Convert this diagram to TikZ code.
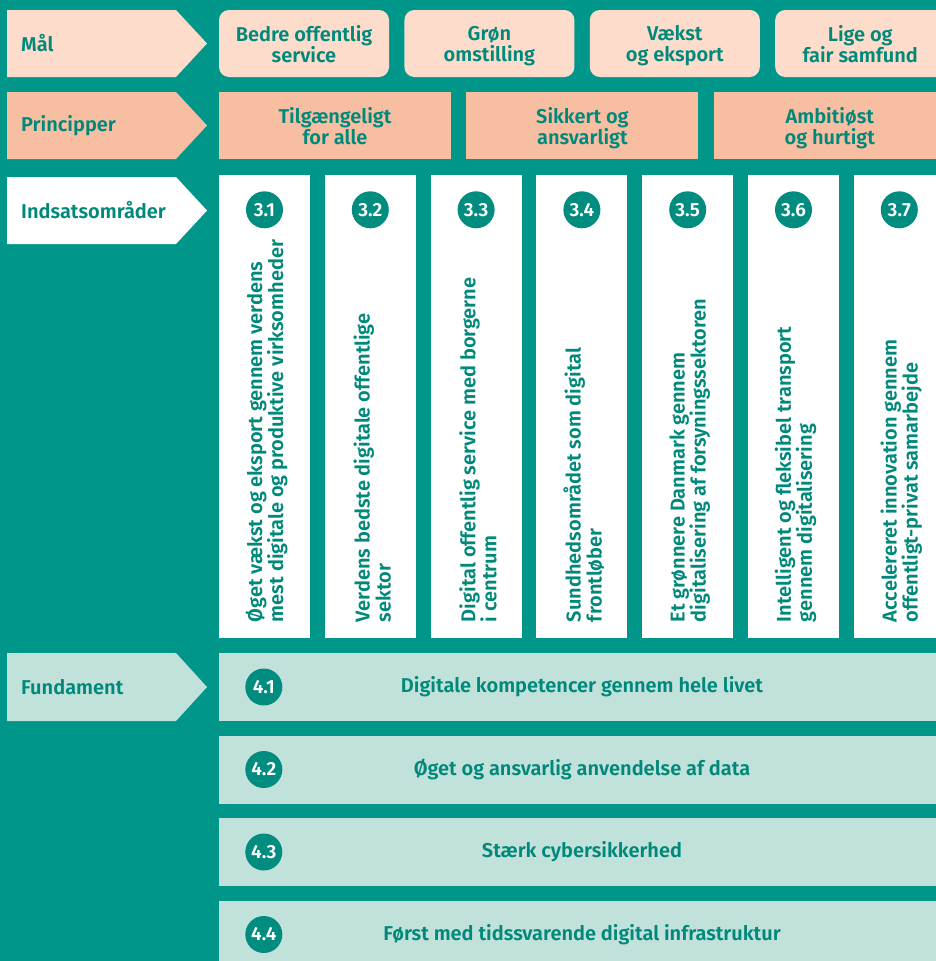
\documentclass[tikz,border=0pt]{standalone}
\usepackage{fontspec}
\setmainfont{Fira Sans}[BoldFont={Fira Sans SemiBold}]
\usetikzlibrary{positioning}
\definecolor{bgteal}{HTML}{00968A}
\definecolor{txtteal}{HTML}{00897B}
\definecolor{numteal}{HTML}{008C7F}
\definecolor{goalpeach}{HTML}{FDDCCB}
\definecolor{prinsalmon}{HTML}{F8BEA1}
\definecolor{foundmint}{HTML}{C1E1DB}
\tikzset{
  base/.style={font=\bfseries\fontsize{20}{21}\selectfont, text=txtteal, align=center, inner sep=0pt},
  lbltext/.style={base, align=left, anchor=west},
  goalbox/.style={base, text depth=0pt, fill=goalpeach, rounded corners=10pt, minimum width=170pt, minimum height=67pt},
  prinbox/.style={base, text depth=0pt, fill=prinsalmon, minimum width=232pt, minimum height=67pt},
  areabox/.style={fill=white, minimum width=91pt, minimum height=463pt, inner sep=0pt},
  areatext/.style={base, align=left, rotate=90, anchor=west},
  foundbox/.style={base, fill=foundmint, minimum width=726pt, minimum height=68pt},
  numcirc/.style={circle, fill=numteal, minimum size=37pt, inner sep=0pt, text=white,
    font=\bfseries\fontsize{19}{19}\selectfont}
}
\begin{document}
\begin{tikzpicture}[x=1pt,y=-1pt]
  \useasboundingbox (0,0) rectangle (936,961);
  \clip (0,0) rectangle (936,961);
  \fill[bgteal] (0,0) rectangle (936,961);

  % row labels
  \foreach \t/\b/\name/\col/\txt in {10/77/lblgoal/goalpeach/Mål,
      92/159/lblprin/prinsalmon/Principper,
      177/244/lblarea/white/Indsatsområder,
      653/721/lblfound/foundmint/Fundament}
  {
    \fill[\col] (7,\t) -- (176,\t) -- (207,{(\t+\b)/2}) -- (176,\b) -- (7,\b) -- cycle;
    \node[lbltext] (\name) at (21,{(\t+\b)/2}) {\txt};
  }

  % maal
  \node[goalbox] (goal1) at (304,43.5) {Bedre offentlig\\service};
  \node[goalbox, right=15pt of goal1] (goal2) {Grøn\\omstilling};
  \node[goalbox, right=15pt of goal2] (goal3) {Vækst\\og eksport};
  \node[goalbox, right=15pt of goal3] (goal4) {Lige og\\fair samfund};

  % principper
  \node[prinbox] (prin1) at (335,125.5) {Tilgængeligt\\for alle};
  \node[prinbox, right=15pt of prin1] (prin2) {Sikkert og\\ansvarligt};
  \node[prinbox, right=15pt of prin2] (prin3) {Ambitiøst\\og hurtigt};

  % indsatsomraader
  \foreach \i/\txt in {1/{Øget vækst og eksport gennem verdens\\mest digitale og produktive virksomheder},
      2/{Verdens bedste digitale offentlige\\sektor},
      3/{Digital offentlig service med borgerne\\i centrum},
      4/{Sundhedsområdet som digital\\frontløber},
      5/{Et grønnere Danmark gennem\\digitalisering af forsyningssektoren},
      6/{Intelligent og fleksibel transport\\gennem digitalisering},
      7/{Accelereret innovation gennem\\offentligt-privat samarbejde}}
  {
    \node[areabox] (area\i) at ({264.5+105.8*(\i-1)},406.5) {};
    \node[numcirc] (num\i) at ([yshift=-35pt]area\i.north) {3.\i};
    \node[areatext] (atxt\i) at ([xshift=2pt,yshift=16pt]area\i.south) {\txt};
  }

  % fundament
  \foreach \i/\txt in {1/Digitale kompetencer gennem hele livet,
      2/Øget og ansvarlig anvendelse af data,
      3/Stærk cybersikkerhed,
      4/Først med tidssvarende digital infrastruktur}
  {
    \node[foundbox] (found\i) at (582,{687+82.5*(\i-1)}) {\txt};
    \node[numcirc] (fnum\i) at ([xshift=45pt]found\i.west) {4.\i};
  }
\end{tikzpicture}
\end{document}
